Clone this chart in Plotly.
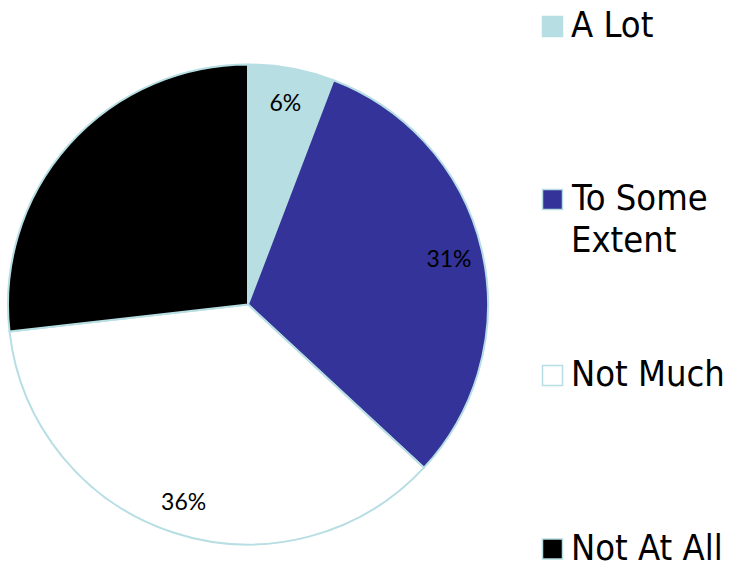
import plotly.graph_objects as go

categories = ["A Lot", "To Some Extent", "Not Much", "Not At All"]
legend_labels = ["A Lot", "To Some<br>Extent", "Not Much", "Not At All"]
values = [5.8, 31.1, 36.3, 26.8]
colors = ["#B7DEE3", "#333399", "#FFFFFF", "#000000"]
edge_color = "#B7DEE3"

W, H = 736, 567
def px(x):
    return x / W
def py(y):
    return 1 - y / H

pie_domain = dict(x=[px(8), px(488)], y=[py(544.5), py(64.5)])

fig = go.Figure()
# the pie itself
fig.add_trace(go.Pie(
    labels=categories,
    values=values,
    sort=False,
    direction="clockwise",
    rotation=0,
    marker=dict(colors=colors, line=dict(color=edge_color, width=2)),
    textinfo="none",
    domain=pie_domain,
    showlegend=False,
    hoverinfo="label+percent",
))
# transparent ring on top that carries the percentage labels near the rim
fig.add_trace(go.Pie(
    labels=categories,
    values=values,
    sort=False,
    direction="clockwise",
    rotation=0,
    hole=0.72,
    marker=dict(colors=["rgba(0,0,0,0)"] * len(values), line=dict(width=0)),
    texttemplate="%{percent:.0%}",
    textposition="inside",
    insidetextorientation="horizontal",
    textfont=dict(family="Lato, sans-serif", size=23, color="#000000"),
    domain=pie_domain,
    showlegend=False,
    hoverinfo="skip",
))

# legend built from layout shapes + annotations
row_y = [26.5, 199.5, 375.5, 549]
shapes = []
annotations = []
for i, (lab, col) in enumerate(zip(legend_labels, colors)):
    cy = row_y[i]
    shapes.append(dict(type="rect", xref="paper", yref="paper",
                       x0=px(542.5), x1=px(562.5), y0=py(cy + 10), y1=py(cy - 10),
                       fillcolor=col, line=dict(color=edge_color, width=1.5)))
    lines = lab.split("<br>")
    for j, t in enumerate(lines):
        annotations.append(dict(text=t, xref="paper", yref="paper",
                                x=px(569), y=py(cy - 2 + j * 41.7),
                                xanchor="left", yanchor="middle", showarrow=False,
                                font=dict(family="DejaVu Sans Condensed, DejaVu Sans, sans-serif",
                                          size=36, color="#000000")))

fig.update_layout(
    width=W, height=H,
    margin=dict(l=0, r=0, t=0, b=0),
    paper_bgcolor="white",
    plot_bgcolor="white",
    shapes=shapes,
    annotations=annotations,
)

fig.write_html("out.html", config={"displayModeBar": False},
               post_script="document.body.style.margin='0px';")
